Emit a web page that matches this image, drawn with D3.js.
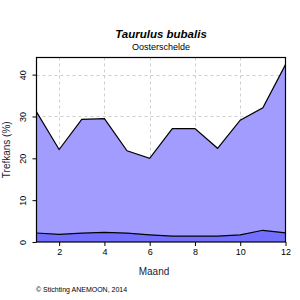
<!DOCTYPE html>
<html>
<head>
<meta charset="utf-8">
<script src="https://cdn.jsdelivr.net/npm/d3@7"></script>
<style>
  html, body { margin: 0; padding: 0; background: #fff; }
  svg { display: block; font-family: "Liberation Sans", Arial, sans-serif; }
</style>
</head>
<body>
<div id="chart"></div>
<script>
/* ---------- Data ---------- */
const months = [1, 2, 3, 4, 5, 6, 7, 8, 9, 10, 11, 12];
const lowerValues = [2.15, 1.8, 2.1, 2.3, 2.1, 1.7, 1.4, 1.4, 1.4, 1.7, 2.8, 2.2];
const totalValues = [31.1, 22.1, 29.3, 29.5, 21.8, 20.0, 27.1, 27.1, 22.4, 29.1, 32.1, 42.4];
const xTicks = [2, 4, 6, 8, 10, 12];
const yTicks = [0, 10, 20, 30, 40];

/* ---------- Layout ---------- */
const W = 300, H = 300;
const m = { left: 36.5, right: 285.5, top: 57.5, bottom: 242 };

const svg = d3.select('#chart').append('svg')
  .attr('width', W).attr('height', H);

const x = d3.scaleLinear().domain([1, 12]).range([m.left, m.right]);
const y = d3.scaleLinear().domain([0, 42.4 * 1.04]).range([m.bottom, m.top]);

// Grid
const grid = svg.append('g')
  .attr('stroke', '#cfcfcf').attr('stroke-dasharray', '3,3').attr('stroke-width', 1);
grid.selectAll('line.v').data(xTicks.slice(0, -1)).join('line')
  .attr('x1', d => Math.round(x(d)) + 0.5).attr('x2', d => Math.round(x(d)) + 0.5)
  .attr('y1', m.top).attr('y2', m.bottom);
grid.selectAll('line.h').data(yTicks.slice(1)).join('line')
  .attr('y1', d => Math.round(y(d)) + 0.5).attr('y2', d => Math.round(y(d)) + 0.5)
  .attr('x1', m.left).attr('x2', m.right);

// Areas
const data = months.map((mo, i) => ({ mo, lo: lowerValues[i], hi: totalValues[i] }));

svg.append('path').datum(data)
  .attr('fill', '#a29cff')
  .attr('d', d3.area().x(d => x(d.mo)).y0(y(0)).y1(d => y(d.hi)));
svg.append('path').datum(data)
  .attr('fill', '#7470ff')
  .attr('d', d3.area().x(d => x(d.mo)).y0(y(0)).y1(d => y(d.lo)));

svg.append('path').datum(data)
  .attr('fill', 'none').attr('stroke', '#000').attr('stroke-width', 1.2)
  .attr('d', d3.line().x(d => x(d.mo)).y(d => y(d.hi)));
svg.append('path').datum(data)
  .attr('fill', 'none').attr('stroke', '#000').attr('stroke-width', 1.2)
  .attr('d', d3.line().x(d => x(d.mo)).y(d => y(d.lo)));

// Box
svg.append('rect')
  .attr('x', m.left).attr('y', m.top)
  .attr('width', m.right - m.left).attr('height', m.bottom - m.top)
  .attr('fill', 'none').attr('stroke', '#000').attr('stroke-width', 1.2);

// Axes
const xAxis = svg.append('g')
  .attr('transform', `translate(0,${m.bottom})`)
  .call(d3.axisBottom(x).tickValues(xTicks).tickSize(4).tickPadding(3));
const yAxis = svg.append('g')
  .attr('transform', `translate(${m.left},0)`)
  .call(d3.axisLeft(y).tickValues(yTicks).tickSize(4).tickPadding(3));

[xAxis, yAxis].forEach(a => {
  a.select('.domain').remove();
  a.selectAll('text').attr('font-size', 9).attr('fill', '#000')
    .attr('font-family', '"Liberation Sans", Arial, sans-serif');
});
yAxis.selectAll('.tick text')
  .attr('transform', 'rotate(-90)')
  .attr('text-anchor', 'middle')
  .attr('x', 0).attr('dx', 0)
  .attr('y', -11).attr('dy', 0);

// Titles
svg.append('text').attr('x', 161).attr('y', 38)
  .attr('text-anchor', 'middle').attr('font-size', 11.5)
  .attr('font-weight', 'bold').attr('font-style', 'italic')
  .text('Taurulus bubalis');
svg.append('text').attr('x', 161).attr('y', 50)
  .attr('text-anchor', 'middle').attr('font-size', 9)
  .text('Oosterschelde');

svg.append('text').attr('x', 154).attr('y', 275)
  .attr('text-anchor', 'middle').attr('font-size', 10).attr('fill', '#22223a')
  .text('Maand');
svg.append('text')
  .attr('transform', `translate(10,${(m.top + m.bottom) / 2}) rotate(-90)`)
  .attr('text-anchor', 'middle').attr('font-size', 10).attr('fill', '#22223a')
  .text('Trefkans (%)');

svg.append('text').attr('x', 36).attr('y', 292)
  .attr('font-size', 7)
  .text('© Stichting ANEMOON, 2014');
</script>
</body>
</html>
